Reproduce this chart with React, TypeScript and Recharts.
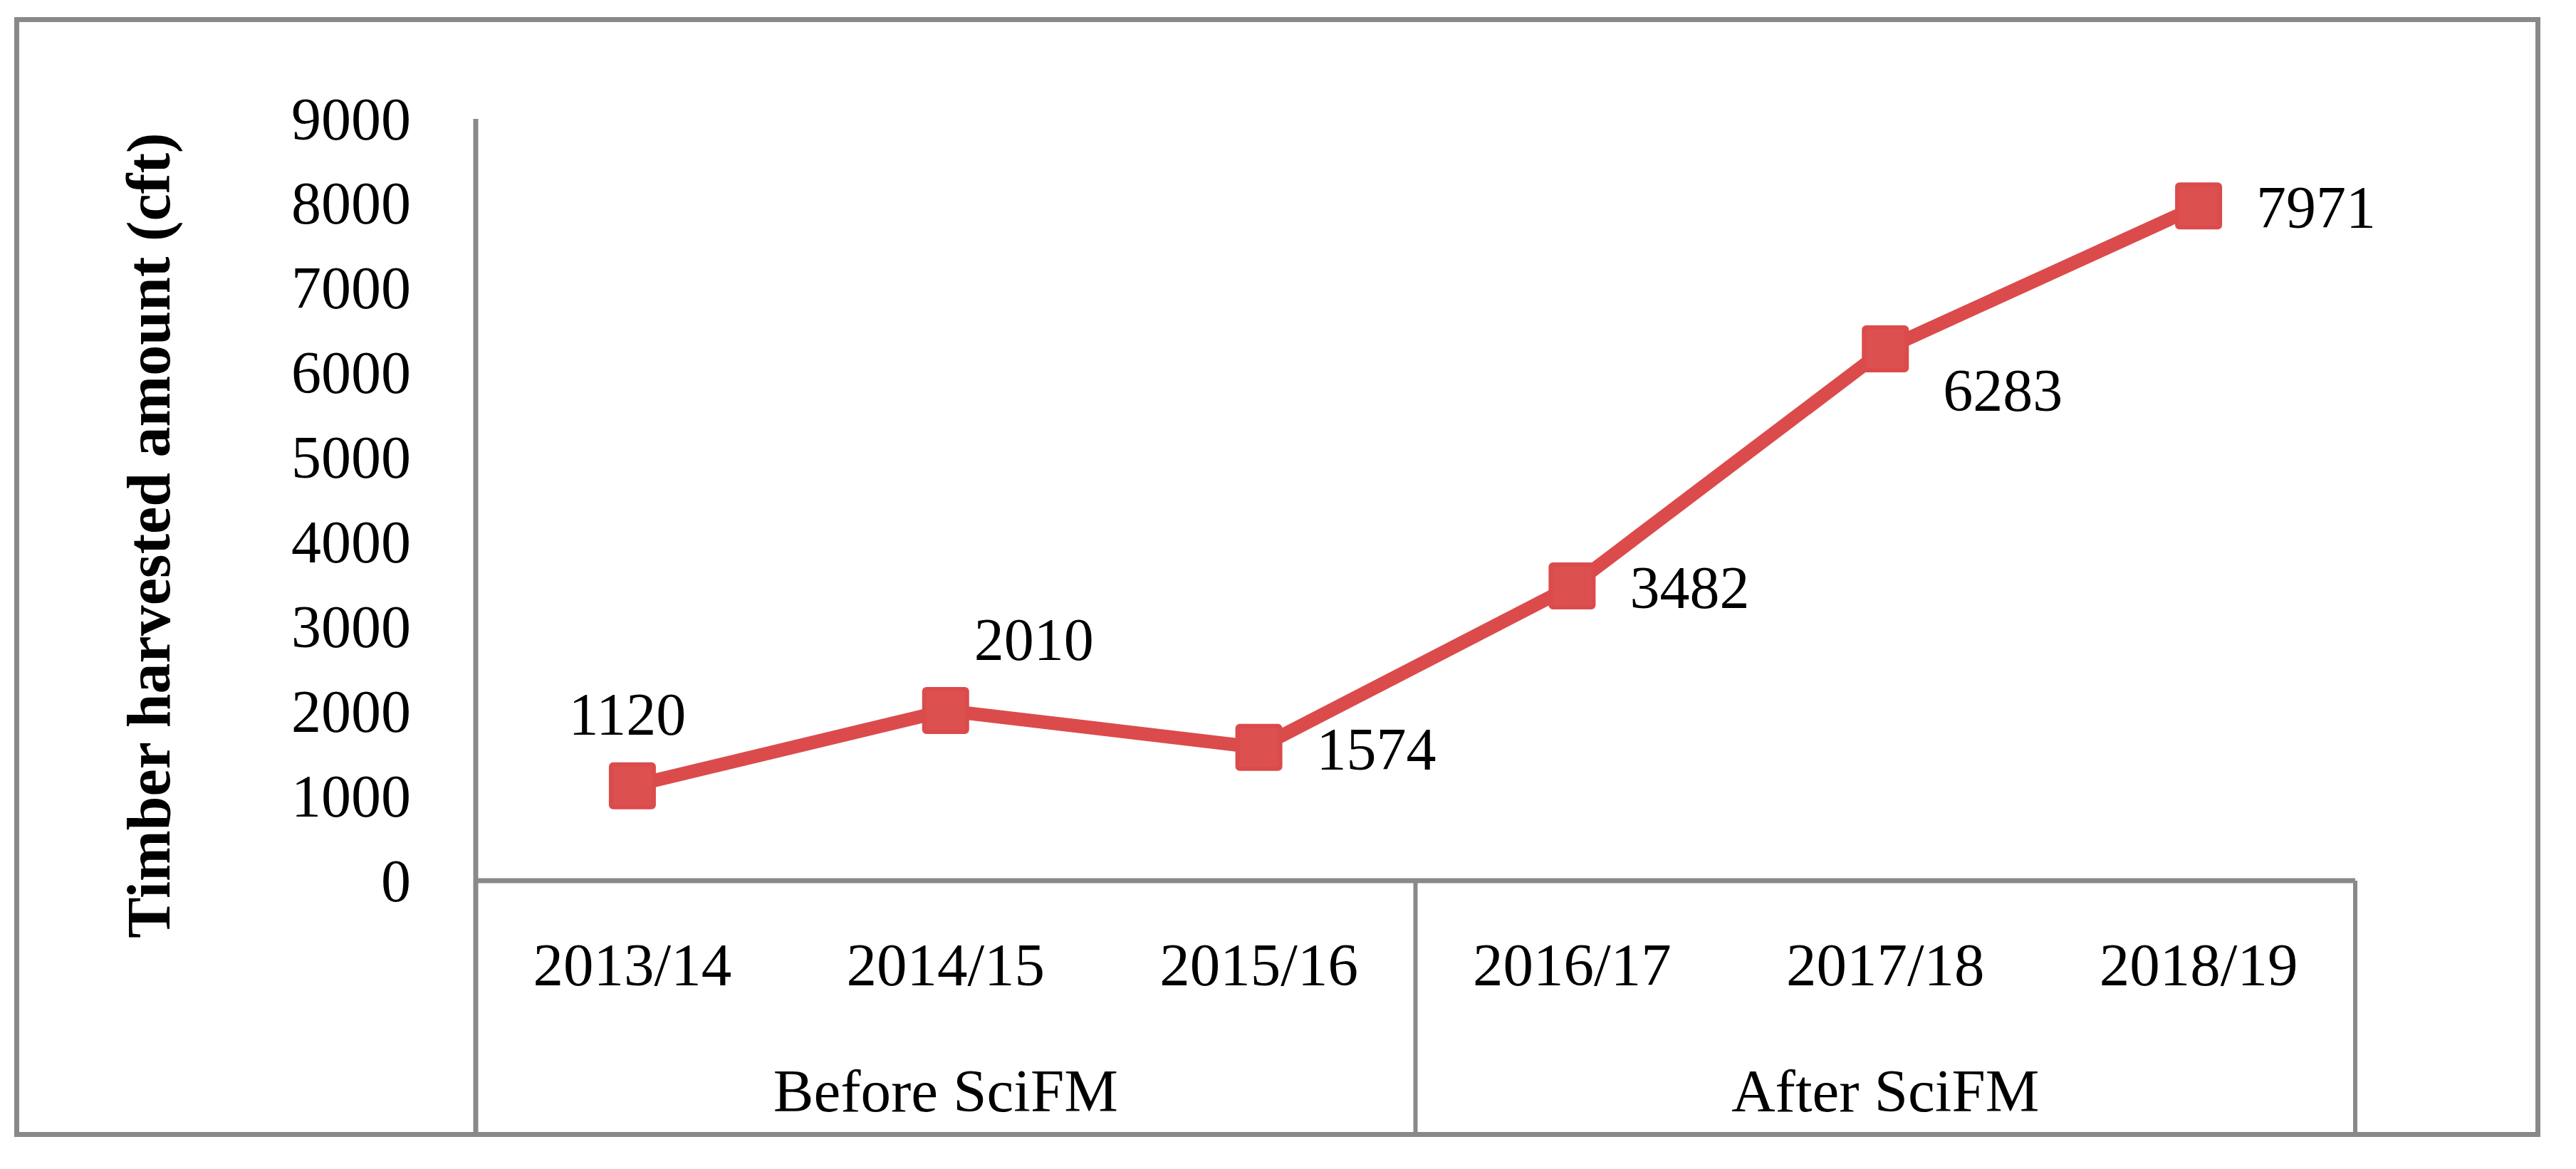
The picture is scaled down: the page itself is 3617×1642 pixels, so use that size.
import React from 'react';
import { LineChart, Line, XAxis, YAxis, LabelList } from 'recharts';

const CATEGORIES = ['2013/14', '2014/15', '2015/16', '2016/17', '2017/18', '2018/19'];
const GROUPS = ['Before SciFM', 'After SciFM'];
const HARVEST = [1120, 2010, 1574, 3482, 6283, 7971];
const Y_TICKS = [0, 1000, 2000, 3000, 4000, 5000, 6000, 7000, 8000, 9000];

const W = 3617;
const H = 1642;
const PLOT_LEFT = 668;
const PLOT_RIGHT = 3307;
const PLOT_TOP = 167;
const AXIS_Y = 1237;
const BOX_BOTTOM = 1594;
const HALF_BAND = (PLOT_RIGHT - PLOT_LEFT) / CATEGORIES.length / 2;

const GRAY = '#898989';
const RED = '#DB4B4B';
const FONT = '"Liberation Serif", "Times New Roman", serif';

// where each value label sits relative to its point (Excel had them hand-placed)
const LABEL_POS = [
  { dx: -7, dy: -100, anchor: 'middle' },
  { dx: 124, dy: -100, anchor: 'middle' },
  { dx: 81, dy: 3, anchor: 'start' },
  { dx: 81, dy: 2, anchor: 'start' },
  { dx: 81, dy: 58, anchor: 'start' },
  { dx: 81, dy: 2, anchor: 'start' },
];

const data = CATEGORIES.map((year, i) => ({ year, harvest: HARVEST[i] }));

const YTick = (props: any) => {
  const { y, payload } = props;
  return (
    <text x={577} y={y} textAnchor="end" dominantBaseline="central" fontFamily={FONT} fontSize={84} fill="#000">
      {payload.value}
    </text>
  );
};

const XTick = (props: any) => {
  const { payload } = props;
  const x = payload.coordinate;
  const i = CATEGORIES.indexOf(payload.value);
  const perGroup = CATEGORIES.length / GROUPS.length;
  return (
    <g>
      <text x={x} y={AXIS_Y + 118} textAnchor="middle" dominantBaseline="central" fontFamily={FONT} fontSize={85} fill="#000">
        {payload.value}
      </text>
      {i % perGroup === 0 && (
        <line x1={x - HALF_BAND} x2={x - HALF_BAND} y1={AXIS_Y} y2={BOX_BOTTOM} stroke={GRAY} strokeWidth={i === 0 ? 7 : 6} />
      )}
      {i === CATEGORIES.length - 1 && (
        <line x1={x + HALF_BAND} x2={x + HALF_BAND} y1={AXIS_Y} y2={BOX_BOTTOM} stroke={GRAY} strokeWidth={6} />
      )}
      {i % perGroup === Math.floor(perGroup / 2) && (
        <text x={x} y={AXIS_Y + 295} textAnchor="middle" dominantBaseline="central" fontFamily={FONT} fontSize={85} fill="#000">
          {GROUPS[Math.floor(i / perGroup)]}
        </text>
      )}
    </g>
  );
};

const SquareDot = (props: any) => {
  const { cx, cy, index } = props;
  return (
    <rect key={`dot-${index}`} x={cx - 30} y={cy - 30} width={60} height={60} rx={3} fill="#DD5050" stroke={RED} strokeWidth={6} />
  );
};

const ValueLabel = (props: any) => {
  const { x, y, value, index } = props;
  const p = LABEL_POS[index];
  return (
    <text x={x + p.dx} y={y + p.dy} textAnchor={p.anchor} dominantBaseline="central" fontFamily={FONT} fontSize={84} fill="#000">
      {value}
    </text>
  );
};

export default function App() {
  return (
    <div style={{ position: 'absolute', left: 0, top: 0, width: W, height: H, background: '#fff' }}>
      <LineChart
        width={W}
        height={H}
        data={data}
        margin={{ top: PLOT_TOP, right: W - PLOT_RIGHT, left: 0, bottom: 0 }}
      >
        <XAxis
          dataKey="year"
          height={H - AXIS_Y}
          padding={{ left: HALF_BAND, right: HALF_BAND }}
          interval={0}
          tickLine={false}
          axisLine={{ stroke: GRAY, strokeWidth: 7 }}
          tick={<XTick />}
        />
        <YAxis
          width={PLOT_LEFT}
          domain={[0, 9000]}
          ticks={Y_TICKS}
          interval={0}
          tickLine={false}
          axisLine={{ stroke: GRAY, strokeWidth: 7 }}
          tick={<YTick />}
        />
        <Line
          dataKey="harvest"
          stroke={RED}
          strokeWidth={19}
          dot={SquareDot}
          activeDot={false}
          isAnimationActive={false}
        >
          <LabelList dataKey="harvest" content={ValueLabel} />
        </Line>
        <text
          x={238}
          y={752}
          transform="rotate(-90, 238, 752)"
          textAnchor="middle"
          fontFamily={FONT}
          fontSize={86}
          fontWeight="bold"
          fill="#000"
        >
          Timber harvested amount (cft)
        </text>
      </LineChart>
      <div
        style={{
          position: 'absolute',
          left: 20,
          top: 24,
          width: 3547,
          height: 1573,
          border: `7px solid ${GRAY}`,
          boxSizing: 'border-box',
          pointerEvents: 'none',
        }}
      />
    </div>
  );
}
